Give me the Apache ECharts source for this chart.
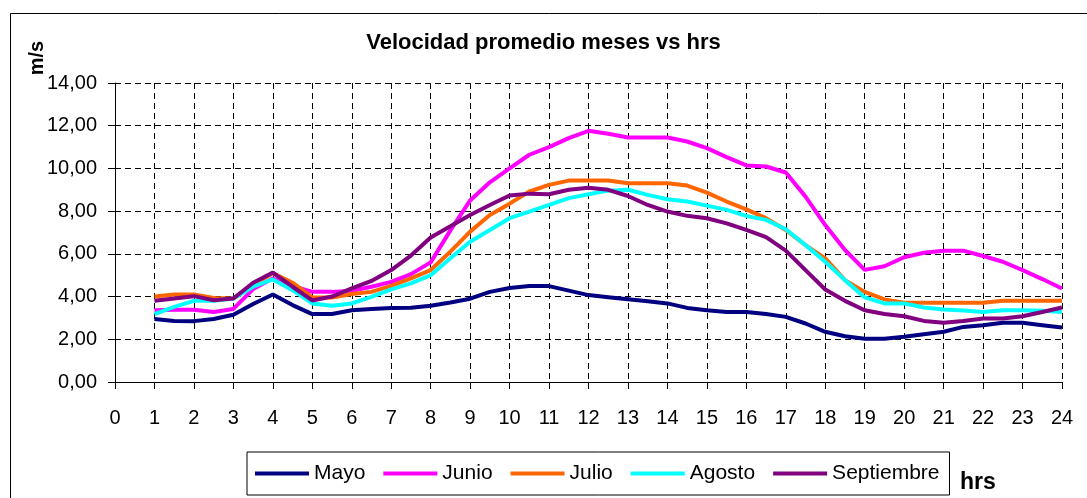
<!DOCTYPE html>
<html>
<head>
<meta charset="utf-8">
<script src="https://cdn.jsdelivr.net/npm/echarts@6/dist/echarts.min.js"></script>
<style>
* { margin: 0; padding: 0; }
body { background: #fff; }
</style>
</head>
<body>
<!-- contenedor del grafico -->
<div id="chart" style="width: 1087px; height: 498px;"></div>
<script>
// horas (cada media hora)
var horas = [1, 1.5, 2, 2.5, 3, 3.5, 4, 4.5, 5, 5.5, 6, 6.5, 7, 7.5, 8, 8.5, 9, 9.5, 10, 10.5, 11, 11.5, 12, 12.5,
  13, 13.5, 14, 14.5, 15, 15.5, 16, 16.5, 17, 17.5, 18, 18.5, 19, 19.5, 20, 20.5, 21, 21.5, 22, 22.5, 23, 23.5, 24]

var mayo = [2.95, 2.86, 2.85, 2.95, 3.15, 3.65, 4.1, 3.6, 3.18, 3.18, 3.36, 3.42, 3.47, 3.48, 3.57, 3.72, 3.9, 4.22,
  4.4, 4.49, 4.49, 4.28, 4.07, 3.97, 3.87, 3.78, 3.68, 3.47, 3.36, 3.28, 3.28, 3.18, 3.05, 2.74, 2.35, 2.14, 2.03,
  2.03, 2.12, 2.24, 2.35, 2.58, 2.66, 2.77, 2.77, 2.66, 2.55]
var junio = [3.36, 3.38, 3.38, 3.28, 3.42, 4.35, 4.85, 4.5, 4.22, 4.22, 4.27, 4.46, 4.69, 5.05, 5.6, 7.1, 8.5, 9.35,
  10.0, 10.64, 11.0, 11.42, 11.76, 11.62, 11.45, 11.45, 11.45, 11.26, 10.95, 10.53, 10.14, 10.09, 9.81, 8.68, 7.35,
  6.18, 5.25, 5.42, 5.84, 6.05, 6.15, 6.15, 5.9, 5.63, 5.24, 4.82, 4.38]
var julio = [4.0, 4.1, 4.1, 3.93, 3.91, 4.55, 5.1, 4.65, 3.96, 3.96, 4.12, 4.22, 4.5, 4.85, 5.24, 6.1, 7.04, 7.82,
  8.35, 8.92, 9.23, 9.43, 9.43, 9.43, 9.31, 9.31, 9.31, 9.2, 8.87, 8.45, 8.08, 7.67, 7.12, 6.41, 5.79, 4.77, 4.22,
  3.87, 3.71, 3.71, 3.71, 3.71, 3.71, 3.8, 3.8, 3.8, 3.8]
var agosto = [3.18, 3.52, 3.8, 3.8, 3.91, 4.46, 4.8, 4.3, 3.68, 3.57, 3.68, 3.99, 4.34, 4.62, 5.0, 5.79, 6.57, 7.12,
  7.67, 7.98, 8.29, 8.61, 8.79, 8.96, 9.0, 8.76, 8.56, 8.45, 8.26, 8.06, 7.78, 7.59, 7.15, 6.41, 5.63, 4.77, 3.96,
  3.68, 3.68, 3.49, 3.4, 3.35, 3.28, 3.36, 3.36, 3.34, 3.28]
var septiembre = [3.8, 3.91, 4.02, 3.83, 3.91, 4.65, 5.12, 4.46, 3.82, 4.0, 4.38, 4.73, 5.24, 5.92, 6.77, 7.29, 7.82,
  8.29, 8.73, 8.82, 8.79, 9.0, 9.1, 9.0, 8.71, 8.29, 7.98, 7.78, 7.67, 7.43, 7.12, 6.78, 6.15, 5.24, 4.33, 3.8,
  3.36, 3.18, 3.08, 2.86, 2.77, 2.86, 2.97, 2.97, 3.08, 3.28, 3.49]

var meses = ['Mayo', 'Junio', 'Julio', 'Agosto', 'Septiembre']
var colores = ['#000080', '#ff00ff', '#ff6600', '#00ffff', '#800080']
var valores = [mayo, junio, julio, agosto, septiembre]

var fuente = 'Liberation Sans, Arial, sans-serif'

function pares(arr) {
  return horas.map(function (h, i) { return [h, arr[i]] })
}

var chart = echarts.init(document.getElementById('chart'))
chart.setOption({
  animation: false,
  title: {
    text: 'Velocidad promedio meses vs hrs',
    left: 'center',
    top: 27,
    textStyle: { fontFamily: fuente, fontSize: 22, fontWeight: 'bold', color: '#000' }
  },
  grid: { left: 115, right: 25, top: 83, bottom: 116 },
  legend: {
    data: meses,
    left: 247,
    top: 452,
    padding: [11, 10, 11, 8],
    itemGap: 18,
    itemWidth: 54,
    itemHeight: 4,
    icon: 'rect',
    borderColor: '#000',
    borderWidth: 1,
    textStyle: { fontFamily: fuente, fontSize: 21, color: '#000' }
  },
  xAxis: {
    type: 'value',
    min: 0,
    max: 24,
    interval: 1,
    axisLine: { lineStyle: { color: '#000', width: 1 } },
    axisTick: { show: true, length: 7, lineStyle: { color: '#000' } },
    axisLabel: { margin: 26, fontFamily: fuente, fontSize: 20, color: '#000' },
    splitLine: { show: true, lineStyle: { color: '#000', type: [6, 4], width: 1 } }
  },
  yAxis: {
    type: 'value',
    min: 0,
    max: 14,
    interval: 2,
    axisLine: { show: true, lineStyle: { color: '#000', width: 1 } },
    axisTick: { show: true, length: 7, lineStyle: { color: '#000' } },
    axisLabel: {
      margin: 18, fontFamily: fuente, fontSize: 20, color: '#000',
      formatter: function (v) { return v.toFixed(2).replace('.', ',') }
    },
    splitLine: { show: true, lineStyle: { color: '#000', type: [6, 4], width: 1 } }
  },
  graphic: [
    {
      type: 'rect', left: 8, top: 11, silent: true,
      shape: { width: 1100, height: 500 },
      style: { fill: 'none', stroke: '#000', lineWidth: 1 }
    },
    {
      type: 'text', x: 37, y: 58, rotation: Math.PI / 2,
      style: { text: 'm/s', font: 'bold 20px ' + fuente, fill: '#000', align: 'center', verticalAlign: 'middle' }
    },
    {
      type: 'text', x: 960, y: 483,
      style: { text: 'hrs', font: 'bold 23px ' + fuente, fill: '#000', align: 'left', verticalAlign: 'middle' }
    }
  ],
  series: meses.map(function (m, i) {
    return {
      name: m,
      type: 'line',
      data: pares(valores[i]),
      showSymbol: false,
      symbol: 'none',
      color: colores[i],
      lineStyle: { width: 4, color: colores[i] }
    }
  })
})
</script>
</body>
</html>
